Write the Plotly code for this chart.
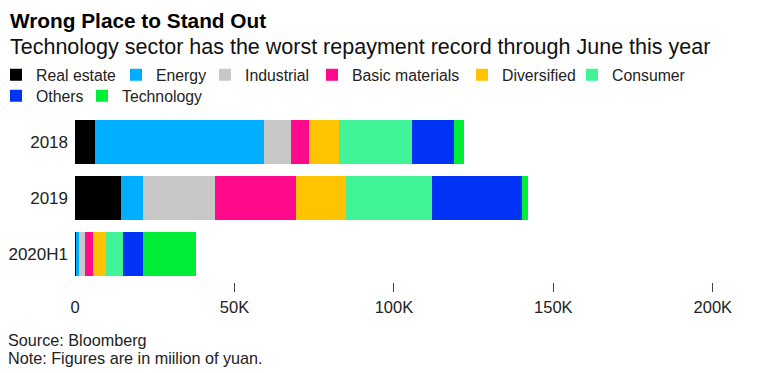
import plotly.graph_objects as go

# Data (million yuan)
years = ["2018", "2019", "2020H1"]
sectors = ["Real estate", "Energy", "Industrial", "Basic materials",
           "Diversified", "Consumer", "Others", "Technology"]
real_estate = [6300, 14500, 200]
energy = [53000, 6900, 1000]
industrial = [8400, 22500, 1900]
basic_materials = [5700, 25300, 2600]
diversified = [9500, 15800, 4100]
consumer = [22800, 26900, 5400]
others = [13300, 28400, 6100]
technology = [3000, 1600, 16600]

series = [real_estate, energy, industrial, basic_materials,
          diversified, consumer, others, technology]
colors = ["#000000", "#00aeff", "#c8c8c8", "#ff0a8c",
          "#ffc400", "#40f396", "#0033f5", "#00ee38"]

tick_vals = [0, 50000, 100000, 150000, 200000]
tick_text = ["0", "50K", "100K", "150K", "200K"]

# Page offset (default body margin) compensation
OFF = 8
W, H = 760 - OFF, 373 - OFF
ML, MR, MT, MB = 67, 15, 106, 91
PW = W - ML - MR
PH = H - MT - MB

def px_x(p):
    return (p - ML) / PW

def px_y(p):
    return (H - MB - p) / PH

FONT = "Liberation Sans, Arial, sans-serif"

# legend entry placement (left edge of swatch, swatch centre) in screen px
legend_pos = [(10, 75), (130, 75), (219, 75), (326, 75),
              (476, 75), (586, 75), (10, 96), (96, 96)]

fig = go.Figure()
legend_layout = {}
for i, (name, vals, col) in enumerate(zip(sectors, series, colors)):
    key = "legend" if i == 0 else f"legend{i + 1}"
    fig.add_trace(go.Bar(
        y=years, x=vals, name=name, orientation="h", legend=key,
        marker=dict(color=col, line=dict(width=0)),
        hoverinfo="x+name",
    ))
    sx, sy = legend_pos[i]
    legend_layout[key] = dict(
        orientation="h", xanchor="left", yanchor="top",
        xref="paper", yref="container",
        x=px_x(sx - OFF - 14), y=1 - (sy - OFF - 17) / H,
        font=dict(size=15.8, color="#222222"),
        itemwidth=30, itemclick=False, bgcolor="rgba(0,0,0,0)",
    )

fig.update_layout(
    width=W, height=H,
    barmode="stack", bargap=0.2,
    plot_bgcolor="white", paper_bgcolor="white",
    margin=dict(l=ML, r=MR, t=MT, b=MB, autoexpand=False),
    font=dict(family=FONT, color="#222222", size=15),
    showlegend=True,
    xaxis=dict(
        range=[0, 210100], tickvals=tick_vals, ticktext=tick_text,
        showgrid=False, zeroline=False, showline=False, ticks="",
        tickfont=dict(size=16.5, color="#222222"),
        ticklabelstandoff=13, automargin=False,
        minor=dict(tickvals=tick_vals[1:], ticks="outside", ticklen=9,
                   tickwidth=1, tickcolor="#444444", showgrid=False),
    ),
    yaxis=dict(
        autorange="reversed", showgrid=False, zeroline=False, showline=False,
        ticks="", tickfont=dict(size=17, color="#222222"),
        ticklabelstandoff=6, automargin=False,
    ),
    annotations=[
        dict(text="<b>Wrong Place to Stand Out</b>", xref="paper", yref="paper",
             x=px_x(0), y=px_y(12), xanchor="left", yanchor="middle",
             showarrow=False, font=dict(size=20.8, color="#000000", family=FONT)),
        dict(text="Technology sector has the worst repayment record through June this year",
             xref="paper", yref="paper", x=px_x(0), y=px_y(39),
             xanchor="left", yanchor="middle", showarrow=False,
             font=dict(size=21.5, color="#111111", family=FONT)),
        dict(text="Source: Bloomberg", xref="paper", yref="paper",
             x=px_x(-2), y=px_y(332), xanchor="left", yanchor="middle",
             showarrow=False, font=dict(size=16.2, color="#222222", family=FONT)),
        dict(text="Note: Figures are in miilion of yuan.", xref="paper", yref="paper",
             x=px_x(-2), y=px_y(350), xanchor="left", yanchor="middle",
             showarrow=False, font=dict(size=16.2, color="#222222", family=FONT)),
    ],
)
fig.update_layout(**legend_layout)

fig.write_html("out.html")
